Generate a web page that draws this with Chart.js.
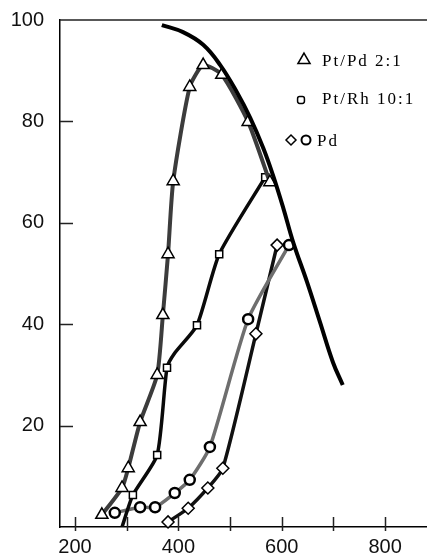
<!DOCTYPE html>
<html>
<head>
<meta charset="utf-8">
<script src="https://cdn.jsdelivr.net/npm/chart.js@4"></script>
<style>
  html, body { margin: 0; padding: 0; background: #fff; overflow: hidden; }
  #wrap { width: 427px; height: 560px; position: relative; }
  canvas { display: block; }
</style>
</head>
<body>
<div id="wrap"><canvas id="myChart"></canvas></div>
<script>
// curve without markers
var curveX = [368, 409, 448, 481, 513, 539, 564, 583, 603, 622, 649, 674, 699, 718];
var curveY = [99.0, 97.6, 95.1, 91.1, 85.8, 80.7, 74.8, 69.4, 62.9, 56.2, 48.3, 40.4, 32.5, 28.0];

// Pt/Pd 2:1 (triangles)
var ptpdX = [252, 291, 303, 326, 359, 370, 380, 390, 422, 448, 484, 535, 577];
var ptpdY = [2.4, 7.7, 11.6, 20.7, 30.0, 41.8, 53.8, 68.2, 86.8, 91.1, 89.2, 79.9, 68.0];

// Pt/Rh 10:1 (squares)
var ptrhX = [291, 312, 359, 378, 393, 436, 479, 568];
var ptrhY = [0, 6.3, 14.2, 31.4, 34.3, 39.8, 53.8, 69.0];

// Pd (hexagons, grey line)
var pdHexX = [277, 326, 355, 393, 422, 461, 535, 614];
var pdHexY = [2.8, 3.9, 3.9, 6.7, 9.3, 15.8, 41.0, 55.6];

// Pd (diamonds, black line)
var pdDiaX = [380, 419, 457, 486, 550, 591];
var pdDiaY = [1.0, 3.7, 7.7, 11.6, 38.1, 55.6];

var xTicks = [200, 300, 400, 500, 600, 700, 800];
var yTicks = [20, 40, 60, 80, 100];

function pts(xs, ys) {
  return xs.map(function (v, i) { return { x: v, y: ys[i] }; });
}

var tickFont = { family: "'Liberation Sans Narrow', 'Liberation Sans', Arial, sans-serif", size: 20 };

var decor = {
  id: 'decor',
  afterDraw: function (chart) {
    var ctx = chart.ctx;
    var a = chart.chartArea;
    var sx = chart.scales.x, sy = chart.scales.y;
    ctx.save();
    ctx.strokeStyle = '#222';
    ctx.lineWidth = 1.5;
    ctx.beginPath();
    ctx.moveTo(a.left, a.top);
    ctx.lineTo(a.right, a.top);
    [20, 40, 60, 80].forEach(function (v) {
      var y = Math.round(sy.getPixelForValue(v)) + 0.5;
      ctx.moveTo(a.left, y);
      ctx.lineTo(a.left + 13, y);
    });
    xTicks.forEach(function (v) {
      var x = Math.round(sx.getPixelForValue(v)) + 0.5;
      ctx.moveTo(x, a.bottom - 10);
      ctx.lineTo(x, a.bottom + 4);
    });
    ctx.stroke();

    // legend
    ctx.fillStyle = '#000';
    ctx.font = "17px 'Liberation Serif', 'Times New Roman', serif";
    ctx.textBaseline = 'alphabetic';
    try { ctx.letterSpacing = '2px'; } catch (e) {}
    ctx.fillText('Pt/Pd 2:1', 322, 66);
    ctx.fillText('Pt/Rh 10:1', 322, 104);
    ctx.fillText('Pd', 317, 146);
    var mk = { borderWidth: 1.5, rotation: 0 };
    ctx.strokeStyle = '#000';
    ctx.fillStyle = '#fff';
    ctx.lineWidth = 1.5;
    Chart.helpers.drawPoint(ctx, Object.assign({}, mk, { pointStyle: 'triangle', radius: 7 }), 304, 60);
    Chart.helpers.drawPoint(ctx, Object.assign({}, mk, { pointStyle: 'rectRounded', radius: 4 }), 301, 100);
    Chart.helpers.drawPoint(ctx, Object.assign({}, mk, { pointStyle: 'rectRot', radius: 5 }), 291, 140);
    ctx.lineWidth = 2;
    Chart.helpers.drawPoint(ctx, Object.assign({}, mk, { pointStyle: 'circle', radius: 4.5 }), 306, 140);
    ctx.restore();
  }
};

new Chart(document.getElementById('myChart'), {
  type: 'scatter',
  data: {
    datasets: [
      {
        data: pts(curveX, curveY),
        showLine: true,
        borderColor: '#000',
        borderWidth: 4,
        pointRadius: 0,
        tension: 0.4
      },
      {
        data: pts(ptpdX, ptpdY),
        showLine: true,
        borderColor: '#3c3c3c',
        borderWidth: 4,
        pointStyle: 'triangle',
        pointRadius: 7,
        pointBackgroundColor: '#fff',
        pointBorderColor: '#000',
        pointBorderWidth: 1.5,
        tension: 0.2,
        clip: false
      },
      {
        data: pts(ptrhX, ptrhY),
        showLine: true,
        borderColor: '#0a0a0a',
        borderWidth: 3.5,
        pointStyle: 'rect',
        pointRadius: function (c) { return (c.dataIndex === 0 || c.dataIndex === 4) ? 0 : 5; },
        pointBackgroundColor: '#fff',
        pointBorderColor: '#000',
        pointBorderWidth: 1.5,
        tension: 0.2
      },
      {
        data: pts(pdHexX, pdHexY),
        showLine: true,
        borderColor: '#6e6e6e',
        borderWidth: 3.5,
        pointStyle: 'circle',
        pointRadius: 5,
        pointBackgroundColor: '#fff',
        pointBorderColor: '#000',
        pointBorderWidth: 2.5,
        tension: 0.2,
        clip: false
      },
      {
        data: pts(pdDiaX, pdDiaY),
        showLine: true,
        borderColor: '#111',
        borderWidth: 3.5,
        pointStyle: 'rectRot',
        pointRadius: 6,
        pointBackgroundColor: '#fff',
        pointBorderColor: '#000',
        pointBorderWidth: 1.5,
        tension: 0.2,
        clip: false
      }
    ]
  },
  options: {
    responsive: true,
    maintainAspectRatio: false,
    animation: false,
    layout: { autoPadding: false, padding: { top: 20, left: 0, right: 0, bottom: 0 } },
    plugins: { legend: { display: false }, tooltip: { enabled: false } },
    scales: {
      x: {
        type: 'linear',
        min: 171,
        max: 881,
        afterBuildTicks: function (s) { s.ticks = xTicks.map(function (v) { return { value: v }; }); },
        afterFit: function (s) { s.height = 33; s.paddingLeft = 0; s.paddingRight = 0; },
        grid: { display: false, drawTicks: false },
        border: { display: true, color: '#000', width: 1.5 },
        ticks: {
          autoSkip: false,
          maxRotation: 0,
          padding: 8,
          color: '#111',
          font: tickFont,
          callback: function (v) { return v % 200 === 0 ? String(v) : ''; }
        }
      },
      y: {
        type: 'linear',
        min: 0,
        max: 100,
        afterBuildTicks: function (s) { s.ticks = yTicks.map(function (v) { return { value: v }; }); },
        afterFit: function (s) { s.width = 60; s.paddingTop = 0; s.paddingBottom = 0; },
        grid: { display: false, drawTicks: false },
        border: { display: true, color: '#000', width: 1.5 },
        ticks: { padding: 16, color: '#111', font: tickFont }
      }
    }
  },
  plugins: [decor]
});
</script>
</body>
</html>
